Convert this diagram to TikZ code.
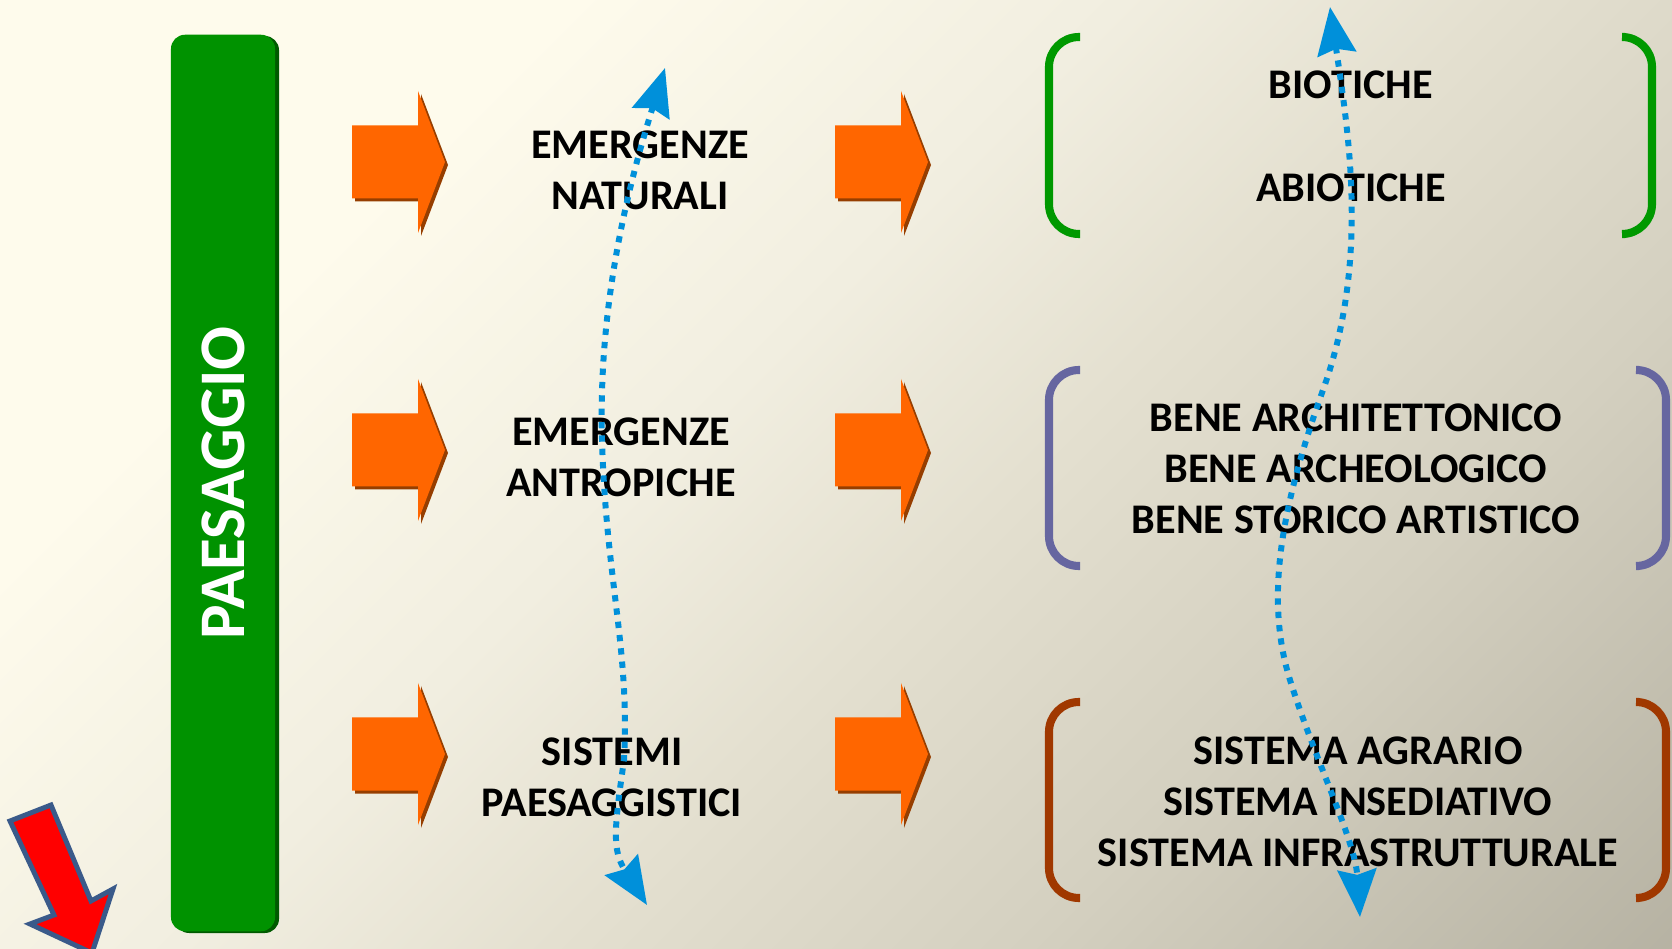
\documentclass[tikz,border=0pt]{standalone}
\usepackage{fontspec}
\setmainfont{Carlito}
\usepackage{tikz}
\usetikzlibrary{arrows.meta}

\definecolor{bgA}{RGB}{254,251,236}
\definecolor{bgB}{RGB}{241,238,224}
\definecolor{bgC}{RGB}{228,224,208}
\definecolor{bgD}{RGB}{212,208,192}
\definecolor{bgE}{RGB}{158,154,139}
\definecolor{barGreen}{RGB}{0,146,0}
\definecolor{barEdge}{RGB}{0,90,0}
\definecolor{arrOrange}{RGB}{255,102,0}
\definecolor{arrShadow}{RGB}{150,62,0}
\definecolor{brGreen}{RGB}{0,153,0}
\definecolor{brPurple}{RGB}{102,102,160}
\definecolor{brBrown}{RGB}{160,56,0}
\definecolor{dotBlue}{RGB}{0,144,218}
\definecolor{redFill}{RGB}{255,0,0}
\definecolor{redEdge}{RGB}{58,90,138}

\pgfdeclarehorizontalshading{bgfade}{100bp}{color(0bp)=(bgA); color(30bp)=(bgA);
  color(45bp)=(bgB); color(55bp)=(bgC); color(68bp)=(bgD); color(100bp)=(bgE)}

\begin{document}
\begin{tikzpicture}[x=0.01cm, y=-0.01cm,
    every node/.style={font=\bfseries\fontsize{12}{14.5}\selectfont,
                       align=center, inner sep=0pt},
    bar/.style={rotate=90, fill=barGreen, text=white, rounded corners=4pt,
                minimum width=8.96cm, minimum height=1.04cm,
                font=\bfseries\fontsize{18.5}{20}\selectfont},
    blockarrow/.style={fill=arrOrange,
                preaction={fill=arrShadow, transform canvas={shift={(3,3)}}}},
    bracket/.style={line width=2.3pt, rounded corners=8.5pt},
    dotline/.style={draw=dotBlue, line width=1.7pt, dash pattern=on 1.8pt off 2pt,
                {Stealth[length=13.5pt,width=11pt,inset=1.5pt]}-{Stealth[length=13.5pt,width=11pt,inset=1.5pt]}}]
  \useasboundingbox (0,0) rectangle (1672,949);
  \clip (0,0) rectangle (1672,949);
  \shade[shading=bgfade, shading angle=-45] (0,0) rectangle (1672,949);

  % vertical title bar
  \fill[barEdge, rounded corners=4pt] (175,36) rectangle (279,933);
  \node[bar] (paesaggio) at (223,483) {PAESAGGIO};

  % block arrows, two columns
  \foreach \ax in {352,835}
    \foreach \ay in {162,450,754}
      \fill[blockarrow, shift={(\ax,\ay)}] (0,-36.5) -- (66,-36.5) -- (66,-71)
        -- (93,0) -- (66,71) -- (66,36.5) -- (0,36.5) -- cycle;

  % middle column
  \node (naturali) at (640,170) {EMERGENZE\\NATURALI};
  \node (antropiche) at (621,457) {EMERGENZE\\ANTROPICHE};
  \node (sistemi) at (612,777) {SISTEMI\\PAESAGGISTICI};

  % brackets
  \draw[bracket, brGreen] (1080,37) -- (1049,37) -- (1049,234) -- (1080,234);
  \draw[bracket, brGreen] (1625,37) -- (1652,37) -- (1652,234) -- (1625,234);
  \draw[bracket, brPurple] (1080,370) -- (1049,370) -- (1049,566) -- (1080,566);
  \draw[bracket, brPurple] (1639,370) -- (1666,370) -- (1666,566) -- (1639,566);
  \draw[bracket, brBrown] (1080,702) -- (1049,702) -- (1049,898) -- (1080,898);
  \draw[bracket, brBrown] (1639,702) -- (1666,702) -- (1666,898) -- (1639,898);

  % right column
  \node (biotiche) at (1351,85) {BIOTICHE};
  \node (abiotiche) at (1351,188) {ABIOTICHE};
  \node (beni) at (1356,469) {BENE ARCHITETTONICO\\BENE ARCHEOLOGICO\\BENE STORICO ARTISTICO};
  \node (sistema) at (1358,802) {SISTEMA AGRARIO\\SISTEMA INSEDIATIVO\\SISTEMA INFRASTRUTTURALE};

  % dotted double arrows
  \coordinate (lTop) at (665,68);
  \coordinate (lBot) at (647,905);
  \draw[dotline] (lTop) .. controls (630,180) and (598,300) .. (602,440)
    .. controls (606,580) and (630,650) .. (624,760)
    .. controls (614,830) and (612,850) .. (lBot);
  \coordinate (rTop) at (1330,7);
  \coordinate (rBot) at (1360,917);
  \draw[dotline] (rTop) .. controls (1348,130) and (1370,260) .. (1323,390)
    .. controls (1280,510) and (1265,600) .. (1290,680)
    .. controls (1315,760) and (1355,840) .. (rBot);

  % red arrow, bottom left
  \filldraw[fill=redFill, draw=redEdge, line width=1.4pt, line join=miter]
    (10,821) -- (51,805) -- (91,901) -- (113,889) -- (92,953) -- (30,924) -- (54,915) -- cycle;
\end{tikzpicture}
\end{document}
